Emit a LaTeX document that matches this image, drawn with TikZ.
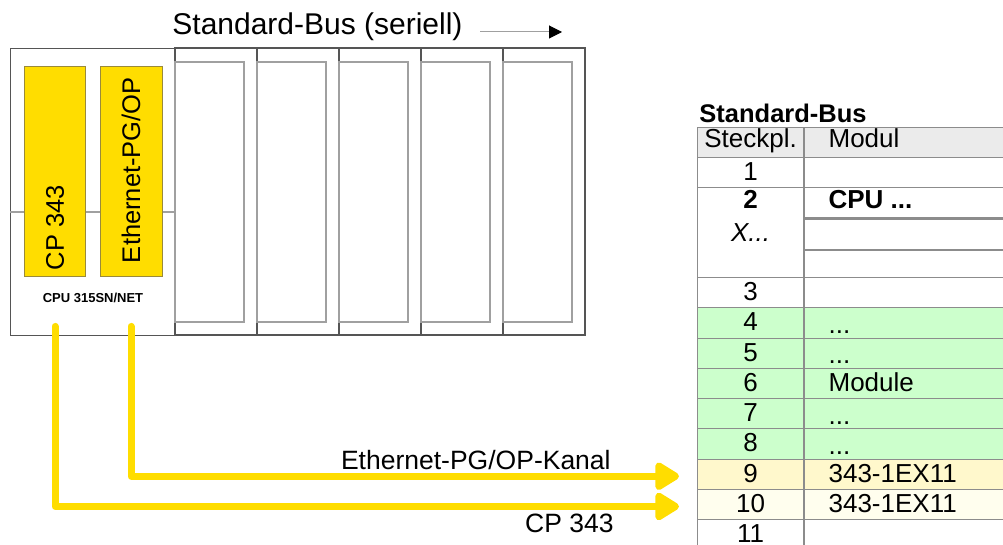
\documentclass[tikz,border=0pt]{standalone}
\usepackage{fontspec}
\setmainfont{Liberation Sans}
\usetikzlibrary{arrows.meta}
\definecolor{busyellow}{HTML}{FFDD00}
\definecolor{modedge}{HTML}{9A8A3A}
\definecolor{rackgray}{HTML}{555555}
\definecolor{slotgray}{HTML}{A0A0A0}
\definecolor{gridgray}{HTML}{8C8C8C}
\definecolor{headgray}{HTML}{EBEBEB}
\definecolor{rowgreen}{HTML}{CCFFCC}
\definecolor{rowyellow}{HTML}{FFF8CC}
\definecolor{rowpale}{HTML}{FFFEEE}

\begin{document}
\begin{tikzpicture}[x=1pt,y=-1pt,line width=0.8pt,
  rackline/.style={draw=rackgray,line width=1.1},
  slotline/.style={draw=slotgray,line width=1.3},
  modbox/.style={draw=modedge,fill=busyellow,line width=0.8,inner sep=0pt,
    minimum width=61pt,minimum height=210pt},
  vtxt/.style={rotate=90,anchor=west,inner sep=0pt,font=\fontsize{25.5}{28}\selectfont},
  feed/.style={draw=busyellow,line width=7,line cap=round,line join=round,
    -{Triangle[round,length=27pt,width=31pt]}},
  cell/.style={draw=gridgray,line width=1.2,inner sep=0pt,minimum height=30.25pt,anchor=north west},
  txt/.style={inner sep=0pt,font=\fontsize{26}{30}\selectfont},
  lbl/.style={inner sep=0pt,font=\fontsize{26.5}{30}\selectfont}]
\newcommand{\tdots}{...}
\useasboundingbox (0,0) rectangle (1003,545);
% ---------- Standard-Bus (seriell) ----------
\node[anchor=base west,inner sep=0pt,font=\fontsize{30}{34}\selectfont] (bus) at (172,35) {Standard-Bus (seriell)};
\coordinate (busL) at (480,32);
\coordinate (busR) at (562,32);
\draw[draw=slotgray,line width=1,-{Triangle[length=13pt,width=13pt,black]}] (busL) -- (busR);
% ---------- Rack ----------
\node[rackline,inner sep=0pt,minimum width=165pt,minimum height=287pt,anchor=north west] (cpu) at (10,48) {};
\draw[slotline] (cpu.west |- 0,212) -- (cpu.east |- 0,212);
\foreach \i in {0,...,4}{
  \draw[rackline] ({175+82*\i},48) rectangle +(82,287);
  \draw[slotline] ({175+82*\i},62) rectangle +(69,260);}
% CP 343 und Ethernet-PG/OP
\node[modbox] (cpbox) at (55,171) {};
\node[modbox,minimum width=62pt] (ethbox) at (131,171) {};
\node[vtxt] (cplbl) at ([yshift=6pt]cpbox.south) {CP 343};
\node[vtxt] (ethlbl) at ([yshift=13pt]ethbox.south) {Ethernet-PG/OP};
\node[inner sep=0pt,font=\bfseries\fontsize{13}{15}\selectfont] (cpuname) at (93,298) {CPU 315SN/NET};
% ---------- Tabelle ----------
\node[anchor=base west,inner sep=0pt,font=\bfseries\fontsize{25.5}{28}\selectfont] (tabtitle) at (699,123) {Standard-Bus};
\node[cell,fill=headgray,minimum width=106pt] (hs) at (697,127) {};
\node[cell,fill=headgray,minimum width=210pt] (hm) at (hs.north east) {};
\node[cell,minimum width=106pt] (s1) at (697,157) {};
\node[cell,minimum width=210pt] (m1) at (s1.north east) {};
\node[cell,minimum width=106pt,minimum height=90.5pt] (s2) at (697,187) {};
\node[cell,minimum width=210pt] (m2a) at (s2.north east) {};
\node[cell,minimum width=210pt] (m2b) at (m2a.south west) {};
\node[cell,minimum width=210pt] (m2c) at (m2b.south west) {};
\foreach \k/\c in {3/white,4/rowgreen,5/rowgreen,6/rowgreen,7/rowgreen,8/rowgreen,
                   9/rowyellow,10/rowpale,11/white}{
  \node[cell,fill=\c,minimum width=106pt] (s\k) at (697,{277+(\k-3)*30.25}) {};
  \node[cell,fill=\c,minimum width=210pt] (m\k) at (s\k.north east) {};}
% Texte
\node[txt,anchor=base] at ([yshift=-21pt]hs.north) {Steckpl.};
\node[txt,anchor=base west] at ([xshift=24pt,yshift=-21pt]hm.north west) {Modul};
\foreach \k in {1,3,4,5,6,7,8,9,10,11}
  \node[txt,anchor=base] at ([yshift=-23.5pt]s\k.north) {\k};
\node[txt,anchor=base,font=\bfseries\fontsize{26}{30}\selectfont] at ([yshift=-21.5pt]s2.north) {2};
\node[txt,anchor=base,font=\itshape\fontsize{26}{30}\selectfont] at ([yshift=-54pt]s2.north) {X...};
\node[txt,anchor=base west,font=\bfseries\fontsize{26}{30}\selectfont] at ([xshift=24pt,yshift=-22pt]m2a.north west) {CPU ...};
\foreach \k in {4,5,7,8}
  \node[txt,anchor=base west] at ([xshift=24pt,yshift=-26pt]m\k.north west) {\tdots};
\foreach \k/\t in {6/Module,9/343-1EX11,10/343-1EX11}
  \node[txt,anchor=base west] at ([xshift=24pt,yshift=-24pt]m\k.north west) {\t};
% ---------- Kanaele ----------
\draw[feed] ([yshift=-50pt]ethbox.south) |- ([xshift=-18pt,yshift=-2pt]s9.west);
\draw[feed] ([yshift=-50pt]cpbox.south) |- ([xshift=-18pt,yshift=-2pt]s10.west);
\node[lbl,anchor=base east] (ethtxt) at (611,469) {Ethernet-PG/OP-Kanal};
\node[lbl,anchor=base east] (cptxt) at (614,532) {CP 343};
\end{tikzpicture}
\end{document}
